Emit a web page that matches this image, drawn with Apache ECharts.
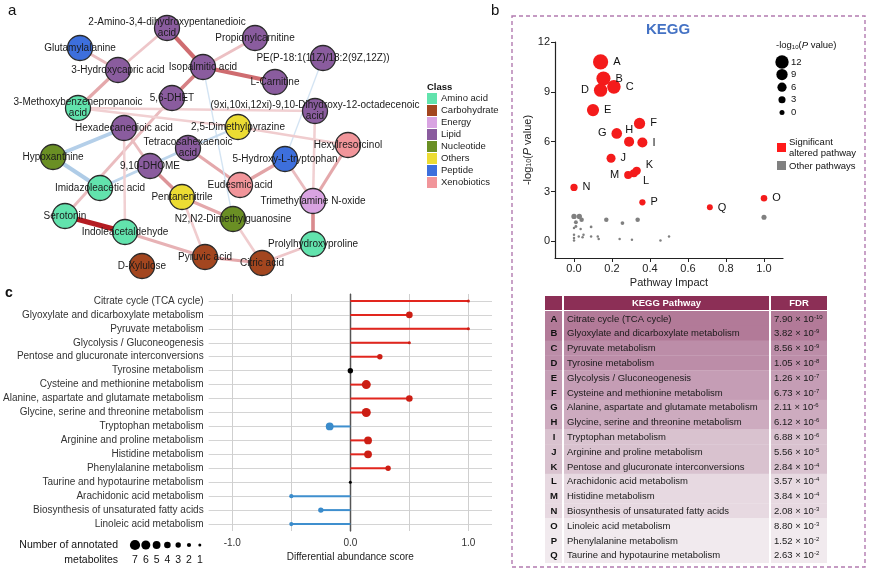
<!DOCTYPE html>
<html><head><meta charset="utf-8">
<script src="https://cdn.jsdelivr.net/npm/echarts@6/dist/echarts.min.js"></script>
<style>html,body{margin:0;padding:0;background:#fff}#c{width:869px;height:576px}</style>
</head><body><div id="c"></div>
<script>
// ================= Panel a : correlation network =================
const classes = ['Amino acid','Carbohydrate','Energy','Lipid','Nucleotide','Others','Peptide','Xenobiotics'];
const classColors = ['#62e3ad','#a3461f','#d9a3e2','#8a5c9e','#6a8f24','#ecdc33','#3d6fdc','#f1959a'];
const nodeNames = [
 '2-Amino-3,4-dihydroxypentanedioic acid','Propionylcarnitine','Isopalmitic acid','PE(P-18:1(11Z)/18:2(9Z,12Z))',
 'L-Carnitine','Glutamylalanine','3-Hydroxycapric acid','5,6-DHET','3-Methoxybenzenepropanoic acid',
 'Hexadecanedioic acid','(9xi,10xi,12xi)-9,10-Dihydroxy-12-octadecenoic acid','2,5-Dimethylpyrazine',
 'Tetracosahexaenoic acid','Hypoxanthine','9,10-DHOME','5-Hydroxy-L-tryptophan','Hexylresorcinol',
 'Imidazoleacetic acid','Eudesmic acid','Pentanenitrile','Trimethylamine N-oxide','Serotonin',
 'N2,N2-Dimethylguanosine','Indoleacetaldehyde','Prolylhydroxyproline','Pyruvic acid','Citric acid','D-Xylulose'];
const nodeLabels = [
 '2-Amino-3,4-dihydroxypentanedioic\nacid','Propionylcarnitine','Isopalmitic acid','PE(P-18:1(11Z)/18:2(9Z,12Z))',
 'L-Carnitine','Glutamylalanine','3-Hydroxycapric acid','5,6-DHET','3-Methoxybenzenepropanoic\nacid',
 'Hexadecanedioic acid','(9xi,10xi,12xi)-9,10-Dihydroxy-12-octadecenoic\nacid','2,5-Dimethylpyrazine',
 'Tetracosahexaenoic\nacid','Hypoxanthine','9,10-DHOME','5-Hydroxy-L-tryptophan','Hexylresorcinol',
 'Imidazoleacetic acid','Eudesmic acid','Pentanenitrile','Trimethylamine N-oxide','Serotonin',
 'N2,N2-Dimethylguanosine','Indoleacetaldehyde','Prolylhydroxyproline','Pyruvic acid','Citric acid','D-Xylulose'];
const nodeClass = ['Lipid','Lipid','Lipid','Lipid','Lipid','Peptide','Lipid','Lipid','Amino acid','Lipid','Lipid',
 'Others','Lipid','Nucleotide','Lipid','Peptide','Xenobiotics','Amino acid','Xenobiotics','Others','Energy',
 'Amino acid','Nucleotide','Amino acid','Amino acid','Carbohydrate','Carbohydrate','Carbohydrate'];
// layout position of each node in the network panel
const nodeX = [167,255,203,323,275,80,118,172,78,124,315,238,188,53,150,285,348,100,240,182,313,65,233,125,313,205,262,142];
const nodeY = [28,38,67,58,82,48,70,98,108,128,111,127,148,157,166,159,145,188,185,197,201,216,219,232,244,257,263,266];
// edges: node index pairs and correlation coefficient
const edgeSource = [0,2,2,7,21,23,25,26,20,20,20,15,18,14,19,25,22,13,13,17,5,6,8,8,1,2,3,11,11,9,10,8,9];
const edgeTarget = [2,4,7,21,23,25,26,24,24,16,15,18,12,19,22,19,26,17,9,12,6,0,6,10,2,22,15,12,16,14,20,11,23];
const edgeR = [0.6,0.6,0.5,0.2,1.0,0.25,0.3,0.15,0.45,0.3,0.2,0.32,0.3,0.4,0.3,0.12,0.12,-0.45,-0.4,-0.3,0.2,0.15,0.3,0.1,0.18,-0.08,-0.08,-0.2,0.12,0.2,0.1,0.1,0.1];

// ================= Panel b : KEGG pathway scatter =================
const keggLetters = ['A','B','C','D','E','F','G','H','I','J','K','L','M','N','O','P','Q'];
const keggImpact = [0.14,0.155,0.21,0.14,0.10,0.345,0.225,0.29,0.36,0.195,0.33,0.315,0.285,0.0,1.0,0.36,0.715];
const keggLogP   = [10.8,9.8,9.3,9.1,7.9,7.1,6.5,6.0,5.95,5.0,4.25,4.1,4.0,3.25,2.6,2.35,2.05];
const otherImpact = [0,0.028,0.04,0.17,0.335,1.0,0.255,0.01,0.01,0,0.09,0.035,0,0,0,0.025,0.045,0.05,0.09,0.125,0.13,0.24,0.305,0.455,0.5];
const otherLogP   = [1.5,1.5,1.3,1.3,1.3,1.45,1.1,1.15,0.9,0.8,0.87,0.75,0.4,0.2,0.05,0.3,0.25,0.4,0.3,0.3,0.15,0.15,0.1,0.05,0.3];
const keggXTicks = [0,0.2,0.4,0.6,0.8,1.0];
const keggYTicks = [0,3,6,9,12];
const sizeLegendVals = [12,9,6,3,0];

// table
const tablePathways = ['Citrate cycle (TCA cycle)','Glyoxylate and dicarboxylate metabolism','Pyruvate metabolism',
 'Tyrosine metabolism','Glycolysis / Gluconeogenesis','Cysteine and methionine metabolism',
 'Alanine, aspartate and glutamate metabolism','Glycine, serine and threonine metabolism','Tryptophan metabolism',
 'Arginine and proline metabolism','Pentose and glucuronate interconversions','Arachidonic acid metabolism',
 'Histidine metabolism','Biosynthesis of unsaturated fatty acids','Linoleic acid metabolism',
 'Phenylalanine metabolism','Taurine and hypotaurine metabolism'];
const tableFDR = [7.90e-10,3.82e-9,8.56e-9,1.05e-8,1.26e-7,6.73e-7,2.11e-6,6.12e-6,6.88e-6,5.56e-5,2.84e-4,3.57e-4,3.84e-4,2.08e-3,8.80e-3,1.52e-2,2.63e-2];
const tableGroup = [0,0,1,1,2,2,3,3,4,4,4,5,5,5,6,6,6];

// ================= Panel c : differential abundance =================
const daPathways = ['Citrate cycle (TCA cycle)','Glyoxylate and dicarboxylate metabolism','Pyruvate metabolism',
 'Glycolysis / Gluconeogenesis','Pentose and glucuronate interconversions','Tyrosine metabolism',
 'Cysteine and methionine metabolism','Alanine, aspartate and glutamate metabolism',
 'Glycine, serine and threonine metabolism','Tryptophan metabolism','Arginine and proline metabolism',
 'Histidine metabolism','Phenylalanine metabolism','Taurine and hypotaurine metabolism',
 'Arachidonic acid metabolism','Biosynthesis of unsaturated fatty acids','Linoleic acid metabolism'];
const daScore = [1.0,0.5,1.0,0.5,0.25,0,0.135,0.5,0.135,-0.175,0.15,0.15,0.32,0,-0.5,-0.25,-0.5];
const daCount = [1,4,1,1,3,3,6,4,6,5,5,5,3,1,2,3,2];
const daGridX = [-1,-0.5,0.5,1];
const daLabelX = [-1,0,1];
const countLegend = [7,6,5,4,3,2,1];

// ================= helpers / styles =================
const FONT = '"Liberation Sans", Arial, sans-serif';
function lerp(a,b,t){return 'rgb('+a.map((v,i)=>Math.round(v+(b[i]-v)*t)).join(',')+')';}
function edgeColor(r){return r>=0? lerp([248,228,230],[180,28,34],Math.min(1,r)) : lerp([220,233,245],[120,168,214],Math.min(1,-r));}
function edgeWidth(r){return r>=0? 2.2+3.2*r : 0.8+7*(-r);}
function keggSize(v){return 3.8+1.05*v;}
function otherSize(v){return 2.5+Math.max(0,v-0.8)*4;}
function countSize(n){return 1.8+1.2*n;}
const groupColors = ['#b27a98','#bc8da8','#c59db5','#cdabbf','#d9c2cf','#e7d9e1','#f1eaee'];

const nodes = nodeNames.map((n,i)=>({name:n, value:[nodeX[i],nodeY[i]], category:classes.indexOf(nodeClass[i]),
  label:{formatter:nodeLabels[i]}}));
const links = edgeSource.map((s,i)=>({source:s, target:edgeTarget[i],
  lineStyle:{color:edgeColor(edgeR[i]), width:edgeWidth(edgeR[i]), opacity:1}}));

const labelPlace = {D:{position:'left'},G:{position:'left'},M:{position:'left'},H:{position:'top',distance:1},
  K:{position:'right',offset:[0,-6]},L:{position:'right',offset:[0,8]},Q:{position:'right',offset:[0,1]}};

const keggData = keggLetters.map((l,i)=>{
  const lp = labelPlace[l]||{position:'right'};
  return {value:[keggImpact[i],keggLogP[i]], symbolSize:keggSize(keggLogP[i]),
    label:Object.assign({show:true, formatter:l, distance:5, fontSize:11, color:'#111', fontFamily:FONT}, lp)};
});
const otherData = otherImpact.map((x,i)=>({value:[x,otherLogP[i]], symbolSize:otherSize(otherLogP[i])}));

// ---------- graphics ----------
const g = [];
function txt(x,y,text,opt){g.push({type:'text', silent:true, z:50, style:Object.assign({x:x,y:y,text:text,
  font:(opt&&opt.font)||('10px '+FONT), fill:'#222', align:'left', verticalAlign:'middle',
  textAlign:'left', textVerticalAlign:'middle'}, opt||{})});}
// panel letters
txt(8,11,'a',{font:'15px '+FONT, fill:'#111'});
txt(491,11,'b',{font:'15px '+FONT, fill:'#111'});
txt(5,293,'c',{font:'bold 14px '+FONT, fill:'#111'});
// class legend title
txt(427,87,'Class',{font:'bold 9.5px '+FONT, fill:'#111'});
// dashed box for b
g.push({type:'rect', silent:true, z:1, shape:{x:512,y:16,width:353,height:551},
  style:{fill:'none', stroke:'#b27bb0', lineWidth:1.4, lineDash:[4,3]}});
txt(668,30,'KEGG',{font:'bold 15px '+FONT, fill:'#4472c4', align:'center', textAlign:'center'});
// -log10(P) size legend
g.push({type:'text', silent:true, z:50, style:{x:776,y:45,text:'{n|-log}{s|10}{n|(}{i|P}{n| value)}',
  verticalAlign:'middle', textVerticalAlign:'middle',
  rich:{n:{fontSize:9.5,fontFamily:FONT,fill:'#111'}, s:{fontSize:6,fontFamily:FONT,fill:'#111',verticalAlign:'bottom'},
        i:{fontSize:9.5,fontFamily:FONT,fontStyle:'italic',fill:'#111'}}}});
sizeLegendVals.forEach((v,i)=>{
  const cy = 62+i*12.6;
  g.push({type:'circle', silent:true, z:50, shape:{cx:782, cy:cy, r:(5+0.7*v)/2}, style:{fill:'#000'}});
  txt(791,cy,String(v),{font:'9.5px '+FONT, fill:'#111'});
});
g.push({type:'rect', silent:true, z:50, shape:{x:777,y:143,width:9,height:9}, style:{fill:'#ff1a1a'}});
txt(789,142,'Significant',{font:'9.5px '+FONT, fill:'#111'});
txt(789,153,'altered pathway',{font:'9.5px '+FONT, fill:'#111'});
g.push({type:'rect', silent:true, z:50, shape:{x:777,y:161,width:9,height:9}, style:{fill:'#808080'}});
txt(789,166,'Other pathways',{font:'9.5px '+FONT, fill:'#111'});
// table
const tX = [545,564,771], tW = [17,205,56];
const hdrY = 296, hdrH = 14, rowY0 = 311, rowH = 14.8;
g.push({type:'rect', silent:true, z:40, shape:{x:545,y:hdrY,width:282,height:hdrH}, style:{fill:'#8c2f56'}});
g.push({type:'rect', silent:true, z:41, shape:{x:562,y:hdrY,width:2,height:hdrH}, style:{fill:'#fff'}});
g.push({type:'rect', silent:true, z:41, shape:{x:769,y:hdrY,width:2,height:hdrH}, style:{fill:'#fff'}});
txt(tX[1]+tW[1]/2,hdrY+hdrH/2+0.5,'KEGG Pathway',{font:'bold 9.5px '+FONT, fill:'#fff', align:'center', textAlign:'center'});
txt(tX[2]+tW[2]/2,hdrY+hdrH/2+0.5,'FDR',{font:'bold 9.5px '+FONT, fill:'#fff', align:'center', textAlign:'center'});
keggLetters.forEach((l,i)=>{
  const y = rowY0+i*rowH, col = groupColors[tableGroup[i]];
  for(let c=0;c<3;c++) g.push({type:'rect', silent:true, z:40, shape:{x:tX[c],y:y,width:tW[c],height:rowH+0.4}, style:{fill:col}});
  const cy = y+rowH/2+0.5;
  txt(554,cy,l,{font:'bold 9.5px '+FONT, fill:'#111', align:'center', textAlign:'center'});
  txt(567,cy,tablePathways[i],{font:'9.5px '+FONT, fill:'#1a1a1a'});
  const ex = tableFDR[i].toExponential(2).split('e');
  g.push({type:'text', silent:true, z:50, style:{x:774,y:cy,text:'{m|'+ex[0]+' × 10}{s|'+(parseInt(ex[1],10))+'}',
    verticalAlign:'middle', textVerticalAlign:'middle',
    rich:{m:{fontSize:9.5,fontFamily:FONT,fill:'#1a1a1a'}, s:{fontSize:6,fontFamily:FONT,fill:'#1a1a1a',verticalAlign:'top'}}}});
});
// panel c size legend
txt(118,545,'Number of annotated',{font:'10.5px '+FONT, align:'right', textAlign:'right', fill:'#111'});
txt(118,560,'metabolites',{font:'10.5px '+FONT, align:'right', textAlign:'right', fill:'#111'});
countLegend.forEach((n,i)=>{
  const cx = 135+i*10.8;
  g.push({type:'circle', silent:true, z:50, shape:{cx:cx, cy:545, r:countSize(n)/2}, style:{fill:'#000'}});
  txt(cx,560,String(n),{font:'10.5px '+FONT, align:'center', textAlign:'center', fill:'#111'});
});

const axisCol = '#222';
const option = {
  animation:false,
  backgroundColor:'#fff',
  textStyle:{fontFamily:FONT},
  grid:[
    {left:0, top:0, width:869, height:576},
    {left:555, top:42, width:228, height:216},
    {left:202, top:294, width:290, height:237}
  ],
  xAxis:[
    {gridIndex:0, type:'value', min:0, max:869, show:false},
    {gridIndex:1, type:'value', min:-0.1, max:1.1, splitLine:{show:false},
      axisLine:{onZero:false, lineStyle:{color:axisCol, width:1.2}},
      axisTick:{customValues:keggXTicks, length:4, lineStyle:{color:axisCol}},
      axisLabel:{customValues:keggXTicks, formatter:v=>v.toFixed(1), fontSize:11, color:'#222', margin:5},
      name:'Pathway Impact', nameLocation:'middle', nameGap:19, nameTextStyle:{fontSize:11, color:'#222'}},
    {gridIndex:2, type:'value', min:-1.2, max:1.2, splitLine:{show:false},
      axisLine:{onZero:false, lineStyle:{color:'#333', width:1.2}},
      axisTick:{show:false},
      axisLabel:{customValues:daLabelX, formatter:v=>v.toFixed(1), fontSize:10, color:'#333', margin:7},
      name:'Differential abundance score', nameLocation:'middle', nameGap:21, nameTextStyle:{fontSize:10, color:'#222'}}
  ],
  yAxis:[
    {gridIndex:0, type:'value', min:0, max:576, inverse:true, show:false},
    {gridIndex:1, type:'value', min:-1, max:12, splitLine:{show:false},
      axisLine:{onZero:false, lineStyle:{color:axisCol, width:1.2}},
      axisTick:{customValues:keggYTicks, length:4, lineStyle:{color:axisCol}},
      axisLabel:{customValues:keggYTicks, fontSize:11, color:'#222', margin:5},
      name:'{n|-log}{s|10}{n|(}{i|P}{n| value)}', nameLocation:'middle', nameGap:22, nameRotate:90,
      nameTextStyle:{rich:{n:{fontSize:11,color:'#222'}, s:{fontSize:7,color:'#222',verticalAlign:'bottom'}, i:{fontSize:11,fontStyle:'italic',color:'#222'}}}},
    {gridIndex:2, type:'category', data:daPathways, inverse:true,
      axisLine:{lineStyle:{color:'#333', width:1.2}},
      axisTick:{alignWithLabel:true, length:3, lineStyle:{color:'#333'}},
      axisLabel:{fontSize:10, color:'#333', margin:5},
      splitLine:{show:false}}
  ],
  legend:{orient:'vertical', left:427, top:93, itemWidth:10, itemHeight:11, itemGap:1, icon:'rect', padding:0,
    selectedMode:false, itemStyle:{borderWidth:0}, textStyle:{fontSize:9.5, color:'#222', padding:[0,0,0,-1]}, data:classes},
  series:[
    {type:'graph', layout:'none', coordinateSystem:'cartesian2d', xAxisIndex:0, yAxisIndex:0,
      symbolSize:25, z:3,
      categories:classes.map((c,i)=>({name:c, itemStyle:{color:classColors[i]}})),
      itemStyle:{borderColor:'#2a2a2a', borderWidth:1.3},
      label:{show:true, position:'inside', fontSize:10, color:'#1a1a1a', fontFamily:FONT, lineHeight:11},
      lineStyle:{curveness:0},
      emphasis:{disabled:true},
      data:nodes, links:links},
    {type:'scatter', xAxisIndex:1, yAxisIndex:1, z:4, itemStyle:{color:'#808080', opacity:1}, data:otherData, silent:true},
    {type:'scatter', xAxisIndex:1, yAxisIndex:1, z:5, itemStyle:{color:'#f41b1b', opacity:1}, data:keggData, silent:true},
    // grid lines for panel c
    {type:'scatter', xAxisIndex:2, yAxisIndex:2, z:1, data:[], silent:true,
      markLine:{z:1, silent:true, symbol:['none','none'], label:{show:false}, animation:false,
        data:daPathways.map(p=>({yAxis:p, lineStyle:{color:'#d4d4d4', width:1, type:'solid'}}))
          .concat(daGridX.map(v=>({xAxis:v, lineStyle:{color:'#cfcfcf', width:1, type:'solid'}})))
          .concat([{xAxis:0, lineStyle:{color:'#555', width:1.3, type:'solid'}}])}},
    {type:'bar', xAxisIndex:2, yAxisIndex:2, z:6, barWidth:2, silent:true,
      data:daScore.map(v=>({value:v, itemStyle:{color: v>0?'#e2261e':'#3f8fce'}}))},
    {type:'scatter', xAxisIndex:2, yAxisIndex:2, z:7, silent:true,
      data:daScore.map((v,i)=>({value:[v,i], symbolSize:countSize(daCount[i]),
        itemStyle:{color: v>0?'#cc1e14':(v<0?'#3a8bcb':'#000'), opacity:1}}))}
  ],
  graphic:g
};
const chart = echarts.init(document.getElementById('c'), null, {renderer:'canvas'});
chart.setOption(option);
</script></body></html>
